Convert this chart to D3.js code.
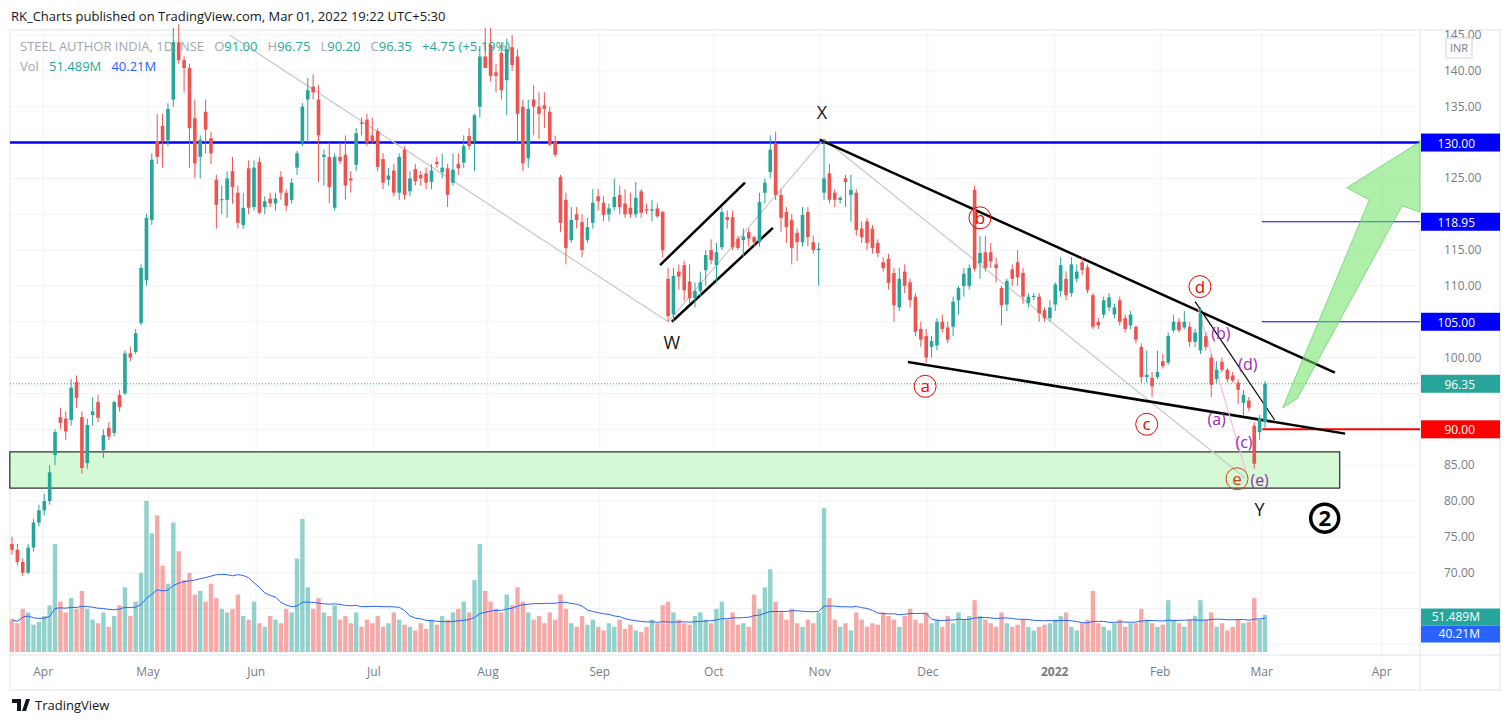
<!DOCTYPE html>
<html><head><meta charset="utf-8">
<script src="https://cdn.jsdelivr.net/npm/d3@7"></script>
<style>
body{margin:0;background:#fff;font-family:"Open Sans","Noto Sans",sans-serif;}
svg text{font-family:"Open Sans","Noto Sans",sans-serif;white-space:pre;}
</style></head>
<body><svg id="chart" width="1505" height="724"></svg>
<script>
// daily candles [open, high, low, close], late Mar 2021 .. Mar 1 2022
var candles = [
[74,75,72.5,73.2],[73.2,74,71,71.5],[71.5,72,69.5,70],[70,74,69.8,73.5],[73.5,77.5,73,77],[77,79.5,76.5,78.7],[78.7,81,78,80],[80,85,79.5,84],
[86.4,90,85,89.6],[91.7,93,90,90.9],[91.5,92.5,88.5,89.7],[91.3,97,90.5,95.8],[96.6,97.5,93,94.4],[91.7,92.5,83.8,84.6],[85.3,91.5,84.5,90.6],[92,94.5,90.5,92.5],
[93.8,94.8,91,91.6],[87.1,90,86,89.2],[90.2,91,88.5,89],[89.5,94,89,93.8],[94.8,95.5,92.5,93.1],[95,101,94.8,100.6],[100.6,101.5,99.5,100],[100.8,104,100.5,103.4],
[104.8,113,104.5,112.5],[110.8,120,110,119.5],[119.2,128.5,118.5,127.6],[130.2,134,127,128],[132.3,134,126.5,130.2],[130.3,135.5,129.5,134.7],[136,146,135,144],[144,146.5,141,141.5],
[141.5,142,137,140.4],[140.4,141,126.5,132],[133.4,136,125,127.1],[128,131,125,130.4],[134.3,136,128.5,131.8],[130.6,131.5,127,128.5],[124.8,125.5,118,121.3],[122,124,120,122.1],
[122,126,119.5,125],[126,128,121.5,123.8],[123,124,118,118.8],[118.5,123,118,120.9],[126.4,127.5,120,120.9],[121,127.5,120.5,126.5],[127.3,128,120,120.2],[121,122.5,120,121.8],
[122.2,123,121,121.5],[121.5,123,120.5,122.2],[125.2,126,122,123],[123,123.5,120.5,121.2],[122,125,121.5,124.4],[126.5,128.8,125.5,128.5],[130,135.5,129.5,135],[136,139,130,137.3],
[137.8,139.5,136,137],[136,138,124.5,131],[128,129,124,128.3],[128,130,121.5,123.8],[120.9,128.5,120.5,128],[128,130,127,127.4],[128.3,131,122,124],[125,126,123,124.7],
[126.9,132,126,131.3],[132.8,133.5,131,132.6],[133.2,134,129.5,130],[131,133.5,129.8,130.2],[131.6,132,126,126.6],[127.7,128.5,123.5,124.4],[124.8,126.5,124,125.4],[126.1,127,122.5,123],
[123,128.5,122,128],[129,129.5,122,122.7],[123.2,126,122.5,125],[126.3,127,124,124.6],[125.5,126,124,125],[125.7,126.5,123.5,124.4],[124.5,127,123.5,126.1],[127.3,128,126.5,127],
[125.9,128.5,125,126.5],[126.4,127,121,122.7],[124.4,128.5,124,126.2],[127,128.5,125.5,126.4],[127.2,131,126.5,129.5],[130.9,132,129,129.5],[130.2,134,126,133.8],[135,143.5,133.5,142],
[142,146,141,140.4],[143.6,146,138.5,139.3],[139.8,141,137,139.3],[142.5,144,136,137.3],[138.7,144.5,133.8,143],[143.3,145,140,140.8],[142,143,130,134],[135,136,126,127.1],
[127.8,136,126.5,134.7],[136,138,131,135],[135,137,130.5,134],[135.2,137,132,134.7],[134.3,135,129.5,129.7],[130.2,131,128,128.3],[125.2,125.5,117.5,118.8],[122,123,113,115.3],
[116.4,121,116,119.2],[120,121,118,119.2],[118.9,120,114,115],[116.4,119.5,116,118.2],[118.8,123.5,118,121.6],[122.5,123.5,120.5,121.8],[121.6,122.5,119,119.9],[120,121.5,119,120.8],
[121,125,120.5,122.4],[122.7,124,120,121],[121.5,123.5,119.5,120],[120.9,123,119.5,120],[120,124.5,119.5,122.3],[123.2,123.5,119.5,120.2],[120.7,121.5,120,120.5],[120.5,122,119,120.7],
[120.8,121.5,119.5,119.7],[120.3,120.5,114,115],[111,112.5,105,105.8],[106,112.5,105,111.4],[112,113,109.5,111.3],[112.9,113.5,108,109.4],[110.6,113,107.5,108.3],[108.3,110.5,107,109.3],
[109.3,112,108.5,110.5],[112.2,115,110,114.3],[115,116.5,113,113.6],[112.9,116,110.5,114.7],[115.4,121,115,120.3],[119.6,120.5,118,119.2],[119.6,120.5,115,115.4],[116.6,117,115,115.3],
[116.4,118,114,116.9],[117.5,118,115.5,116.6],[116.8,117,115.5,116.1],[116.1,123,115.5,121.7],[123,125,121.5,124.4],[125.9,131,125,129],[129.9,131.5,122,122.7],[122.7,123.5,117.5,119.5],
[120.3,121,116,118.2],[119.2,120,113,115.3],[117.4,118,113.5,116.1],[116.1,121,115.5,119.9],[120.3,121,115.5,116.8],[116.1,117,114.5,115],[115,116,110,115.2],[123,130.5,122,125],
[125.7,127,121.5,122],[123,123.5,121,122],[122,122.5,121.5,122.3],[125,125.5,121,124.5],[122.7,125.5,119,123.4],[123,123.5,117,117.8],[118,119,116,116.8],[119,119.5,115,116],
[118,118.5,114.5,115.3],[116,116.5,114,114.6],[113.3,114,112,112.5],[113.8,114.5,109.5,110.4],[111.8,112.5,105,107.3],[107,112.5,106.5,111],[112,113,109,110],[110.5,111,107,108],
[108.5,109,103,103.6],[104,105,101.5,102.5],[103,104,99.3,100],[101.5,103,100,102.3],[101.7,105.5,101,105],[105,106,103.5,104],[104.2,105,102,102.5],[104.3,108.5,103,107.8],
[108,110,106,109.7],[110,112.5,108.5,111.7],[110,113,109.5,112.5],[123.4,124,112,112.4],[113.2,117,111,114.6],[114.7,117,112,112.5],[114.7,116,112.5,113.4],[113,114,110.5,112.5],
[109.7,110,104.5,107.3],[107.4,111,106.5,110.7],[112.3,113,110,111],[113.3,115,110,111.2],[111.8,112.5,107.5,108.5],[107.6,109,107,108.5],[108.5,109,108,108.6],[108.5,109,105,106.2],
[106.6,107,105,105.5],[105.5,108,105,107],[107.4,110.5,106.5,110.2],[109.3,114,108.5,112.9],[111,112,108,108.7],[109,114,108.5,113],[111,113,110.5,112],[113.3,114,111.5,112.2],
[112.6,113,109,109.4],[108.7,109,104,104.3],[105,105.5,104,104.5],[106,108.5,105.5,108],[107,109,106.5,108.4],[106,107.5,105.5,107],[108,108.5,104.5,105],[105.5,106,103.5,104],
[104.5,106.5,104,106],[104.3,104.5,102,102.5],[101.5,102,96.5,97.3],[97.3,101,96.5,97.6],[97.2,98,94.5,96],[97.3,101,97,98],[99.5,100.5,98.5,98.8],[99.3,103.5,99,103],
[103.8,106,103.5,105],[105,105.5,103.5,103.8],[104.2,106.5,104,105],[104.3,105,101.5,102.2],[102.2,104,101.5,103.5],[101,107,100.5,106.2],[103,103.5,101,101.5],[100,100.5,94.5,96.2],
[97,99.5,96.5,98.3],[99.4,100,98,98.3],[98.3,98.5,96.5,97],[97.5,98,96.5,96.8],[96.5,97,93.5,95.5],[93.7,95.5,92,94.8],[94,94.5,92.5,93],[90.5,91,84.5,85.2],
[89.6,92,88.5,91.6],[91,96.75,90.2,96.35]
];
// volume in millions, one per candle
var volumes = [45,40,60,55,38,42,50,65,150,70, 55,75,60,85,60,45,40,55,35,50, 65,90,50,70,110,210,165,190,120,95,
180,140,100,110,80,85,70,95,75,60, 55,60,80,50,45,70,40,35,50,45, 40,60,55,130,185,90,60,75,55,50,
65,45,50,40,55,35,45,40,50,35, 40,55,45,38,35,30,40,32,45,38, 50,45,55,60,70,55,100,150,85,70,
60,55,80,65,90,70,55,45,50,40, 55,45,80,60,40,35,50,38,45,35, 30,40,35,45,32,38,30,28,35,45,
40,65,70,55,45,40,38,50,55,45, 40,60,70,45,55,38,40,35,80,60, 90,115,70,55,45,60,40,35,45,40,
55,200,75,45,35,40,30,55,45,35, 40,38,55,50,45,35,50,60,45,40, 55,40,45,35,50,40,55,45,50,72,
50,45,40,35,55,40,35,38,45,35, 30,35,38,40,45,50,55,35,30,40, 45,85,40,35,30,40,45,35,40,40,
60,45,40,35,38,72,45,40,35,45, 50,72,45,55,35,40,30,35,45,40, 42,75,45,51.489];
var monthLabels = ["Apr","May","Jun","Jul","Aug","Sep","Oct","Nov","Dec","2022","Feb","Mar","Apr"];
var monthIdx = [5.8,25.3,45.4,67.3,88.5,109.3,130.5,150.2,170.3,193.9,213.5,232.4,254.7];
var priceTicks = [145,140,135,130,125,120,115,110,105,100,95,90,85,80,75,70,65,60];

var svg = d3.select("#chart");
var L = 10, R = 1420, T = 30, B = 655;
var x = d3.scaleLinear().domain([0, candles.length - 1]).range([12, 1265]);
var y = d3.scaleLinear().domain([80, 145]).range([501, 35]);
var yv = d3.scaleLinear().domain([0, 210]).range([652, 501]);
var up = "#26a69a", dn = "#ef5350";

var tags = [[130,"130.00","#0000ff"],[118.95,"118.95","#0000ff"],[105,"105.00","#0000ff"],[96.35,"96.35",up],[90,"90.00","#ff0000"]];

// frame + grid
svg.append("rect").attr("x", 0).attr("y", 0).attr("width", 1505).attr("height", 724).attr("fill", "#fff");
svg.append("rect").attr("x", L).attr("y", T).attr("width", 1490).attr("height", 660).attr("fill", "none").attr("stroke", "#e0e3eb");
svg.selectAll(".hg").data(priceTicks).enter().append("line")
  .attr("x1", L).attr("x2", R).attr("y1", d => y(d)).attr("y2", d => y(d)).attr("stroke", "#f0f3fa");
svg.selectAll(".vg").data(monthIdx).enter().append("line")
  .attr("x1", d => x(d)).attr("x2", d => x(d)).attr("y1", T).attr("y2", B).attr("stroke", "#f0f3fa");
svg.append("line").attr("x1", R).attr("x2", R).attr("y1", T).attr("y2", 690).attr("stroke", "#e0e3eb");
svg.append("line").attr("x1", L).attr("x2", 1500).attr("y1", B).attr("y2", B).attr("stroke", "#e0e3eb");

// support box
svg.append("rect").attr("x", x(-0.4)).attr("y", y(86.85)).attr("width", x(246.9) - x(-0.4))
  .attr("height", y(81.8) - y(86.85)).attr("fill", "#d4f9d4").attr("stroke", "#000").attr("stroke-width", 1);

// volume
svg.selectAll(".vol").data(volumes).enter().append("rect")
  .attr("x", (d, i) => x(i) - 2.2).attr("width", 4.4)
  .attr("y", d => yv(d)).attr("height", d => yv(0) - yv(d))
  .attr("fill", (d, i) => candles[i][3] >= candles[i][0] ? up : dn).attr("opacity", 0.5);
var ma = volumes.map(function(v, i) {
  var s = volumes.slice(Math.max(0, i - 19), i + 1);
  return d3.mean(s);
});
svg.append("path").datum(ma).attr("fill", "none").attr("stroke", "#2962ff").attr("stroke-width", 1)
  .attr("d", d3.line().x((d, i) => x(i)).y(d => yv(d)));

// horizontal levels
svg.append("line").attr("x1", L).attr("x2", R).attr("y1", y(130)).attr("y2", y(130)).attr("stroke", "#0000ff").attr("stroke-width", 2.5);
svg.append("line").attr("x1", L).attr("x2", R).attr("y1", y(96.35)).attr("y2", y(96.35)).attr("stroke", up).attr("stroke-dasharray", "1,2");
[118.95, 105].forEach(function(p) {
  svg.append("line").attr("x1", x(232.4)).attr("x2", R).attr("y1", y(p)).attr("y2", y(p)).attr("stroke", "#0000ff");
});
svg.append("line").attr("x1", x(232.5)).attr("x2", R).attr("y1", y(90)).attr("y2", y(90)).attr("stroke", "#ff0000").attr("stroke-width", 2);

// trend lines [idx1, p1, idx2, p2, colour, width]
var trendLines = [
  [40.5,145,122,105,"#c8c8c8",1.2],[122,105,151,130.5,"#c8c8c8",1.2],[151,130.5,229.3,83.2,"#c8c8c8",1.2],
  [120.5,112.9,136.3,124.4,"#000",2.5],[122.7,105,141.5,118.1,"#000",2.5],
  [150.2,130.4,246,97.9,"#000",2.5],[166.6,99.4,247.9,89.4,"#000",2.5],
  [220,107.8,234.8,91.3,"#000",1.2],[220.5,107,229.5,84,"#f4b8e8",1.2]
];
svg.selectAll(".tl").data(trendLines).enter().append("line")
  .attr("x1", d => x(d[0])).attr("y1", d => y(d[1])).attr("x2", d => x(d[2])).attr("y2", d => y(d[3]))
  .attr("stroke", d => d[4]).attr("stroke-width", d => d[5]);

// candles
var c = svg.selectAll(".c").data(candles).enter().append("g");
c.append("line").attr("x1", (d, i) => x(i)).attr("x2", (d, i) => x(i))
  .attr("y1", d => y(d[1])).attr("y2", d => y(d[2])).attr("stroke", d => d[3] >= d[0] ? up : dn);
c.append("rect").attr("x", (d, i) => x(i) - 1.8).attr("width", 3.6)
  .attr("y", d => y(Math.max(d[0], d[3]))).attr("height", d => Math.max(1, Math.abs(y(d[0]) - y(d[3]))))
  .attr("fill", d => d[3] >= d[0] ? up : dn);

// green arrow
var arrow = [[236.3,93],[252.4,122],[248.2,123.7],[261.8,130.1],[261.8,120.3],[258.5,121.2],[239,94.3]];
svg.append("path").attr("d", d3.line().x(d => x(d[0])).y(d => y(d[1])).curve(d3.curveLinearClosed)(arrow))
  .attr("fill", "rgba(110,225,100,0.55)").attr("stroke", "rgba(90,210,90,0.7)");

// wave labels
var waveText = [["W",122.7,102],["X",150.6,134.1],["Y",232,78.8]];
svg.selectAll(".wt").data(waveText).enter().append("text")
  .attr("x", d => x(d[1])).attr("y", d => y(d[2]) + 6).attr("text-anchor", "middle")
  .attr("font-size", 18).attr("fill", "#131722").text(d => d[0]);
var circled = [["a",169.8,96,"#e00"],["b",180,119.5,"#e00"],["c",211,90.7,"#e00"],["d",220.9,109.9,"#e00"],["e",227.8,83.1,"#d2401a"]];
var cg = svg.selectAll(".cl").data(circled).enter().append("g");
cg.append("circle").attr("cx", d => x(d[1])).attr("cy", d => y(d[2])).attr("r", 11).attr("fill", "none").attr("stroke", d => d[3]);
cg.append("text").attr("x", d => x(d[1])).attr("y", d => y(d[2]) + 6).attr("text-anchor", "middle")
  .attr("font-size", 17).attr("fill", d => d[3]).text(d => d[0]);
var paren = [["(b)",224.8,103.5],["(d)",229.8,99.1],["(a)",224,91.5],["(c)",229.1,88.2],["(e)",232,82.9]];
svg.selectAll(".pl").data(paren).enter().append("text").attr("x", d => x(d[1])).attr("y", d => y(d[2]) + 6)
  .attr("text-anchor", "middle").attr("font-size", 16).attr("fill", "#9c27b0").text(d => d[0]);
svg.append("circle").attr("cx", x(244.1)).attr("cy", y(77.6)).attr("r", 14).attr("fill", "none").attr("stroke", "#000").attr("stroke-width", 3.5);
svg.append("text").attr("x", x(244.1)).attr("y", y(77.6) + 8).attr("text-anchor", "middle").attr("font-size", 22).attr("font-weight", "bold").text("2");

// price axis (labels hidden where a tag covers them)
var volTagY = [617, 634];
var shownTicks = priceTicks.filter(function(p) {
  var yy = y(p);
  return !tags.some(t => Math.abs(y(t[0]) - yy) < 14) && !volTagY.some(v => Math.abs(v - yy) < 14);
});
svg.selectAll(".pt").data(shownTicks).enter().append("text")
  .attr("x", 1444).attr("y", d => y(d) + 4).attr("font-size", 12).attr("fill", "#787b86").text(d => d.toFixed(2));
svg.append("rect").attr("x", 1446).attr("y", 38).attr("width", 26).attr("height", 20).attr("fill", "#fff").attr("stroke", "#d1d4dc");
svg.append("text").attr("x", 1459).attr("y", 52).attr("text-anchor", "middle").attr("font-size", 11).attr("fill", "#787b86").text("INR");
tags.forEach(function(t) {
  svg.append("rect").attr("x", R + 1).attr("y", y(t[0]) - 9).attr("width", 79).attr("height", 18).attr("fill", t[2]);
  svg.append("text").attr("x", 1475).attr("y", y(t[0]) + 5).attr("text-anchor", "end").attr("font-size", 12).attr("fill", "#fff").text(t[1]);
});
[["51.489M", up], ["40.21M", "#2962ff"]].forEach(function(t, k) {
  var yy = volTagY[k];
  svg.append("rect").attr("x", R + 1).attr("y", yy - 8.5).attr("width", 79).attr("height", 17).attr("fill", t[1]);
  svg.append("text").attr("x", 1480).attr("y", yy + 4).attr("text-anchor", "end").attr("font-size", 12).attr("fill", "#fff").text(t[0]);
});

// time axis
svg.selectAll(".mt").data(monthLabels).enter().append("text")
  .attr("x", (d, i) => x(monthIdx[i])).attr("y", 676).attr("text-anchor", "middle").attr("font-size", 12)
  .attr("fill", "#787b86").attr("font-weight", d => d === "2022" ? "bold" : null).text(d => d);

// header, legend, footer
svg.append("text").attr("x", 11).attr("y", 21).attr("font-size", 13).attr("fill", "#131722")
  .text("RK_Charts published on TradingView.com, Mar 01, 2022 19:22 UTC+5:30");
var lg = svg.append("text").attr("x", 20).attr("y", 51).attr("font-size", 13);
lg.append("tspan").attr("fill", "#a3a6af").text("STEEL AUTHOR INDIA, 1D, NSE   O");
var last = candles[candles.length - 1];
[["", last[0]], ["H", last[1]], ["L", last[2]], ["C", last[3]]].forEach(function(p, k) {
  if (k) lg.append("tspan").attr("fill", "#a3a6af").text("   " + p[0]);
  lg.append("tspan").attr("fill", up).text(p[1].toFixed(2));
});
lg.append("tspan").attr("fill", up).text("   +4.75 (+5.19%)");
var vl = svg.append("text").attr("x", 20).attr("y", 71).attr("font-size", 13);
vl.append("tspan").attr("fill", "#a3a6af").text("Vol   ");
vl.append("tspan").attr("fill", up).text("51.489M   ");
vl.append("tspan").attr("fill", "#2962ff").text("40.21M");
svg.append("path").attr("d", "M12,699 h9 v12 h-4 v-8 h-5z M22,711 l4,-12 h4 l-4,12z").attr("fill", "#131722");
svg.append("text").attr("x", 35).attr("y", 710).attr("font-size", 13).attr("fill", "#131722").text("TradingView");
</script></body></html>
